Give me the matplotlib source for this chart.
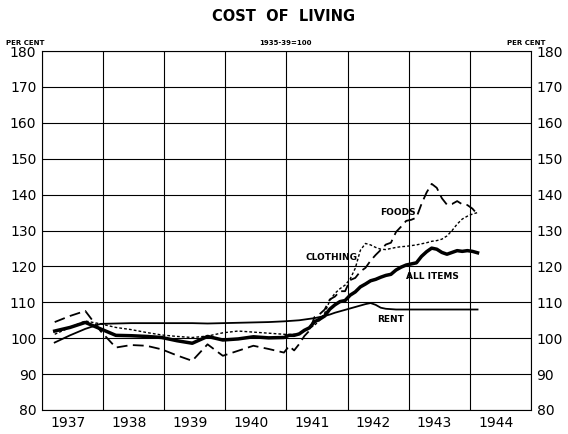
import matplotlib.pyplot as plt
import numpy as np

# x positions: quarterly (Mar, Jun, Sep, Dec) 1937-1940, monthly 1941 - Feb 1944
quarters = [1937 + y + (m - 0.5) / 12 for y in range(4) for m in (3, 6, 9, 12)]
months = [1941 + (i + 0.5) / 12 for i in range(38)]
x = np.array(quarters + months)

all_items = [102.0, 103.0, 104.4, 102.6,
             100.8, 100.7, 100.5, 100.2,
             99.3, 98.6, 100.5, 99.5,
             99.8, 100.4, 100.1, 100.2,
             100.8, 100.8, 101.2, 102.2, 102.9, 104.6, 105.3, 106.2, 108.1, 109.3, 110.2, 110.5,
             112.0, 112.9, 114.3, 115.1, 116.0, 116.4, 117.0, 117.5, 117.8, 119.0, 119.8, 120.4,
             120.7, 121.0, 122.8, 124.1, 125.1, 124.8, 123.9, 123.4, 123.9, 124.4, 124.2, 124.4,
             124.2, 123.8]

foods = [104.5, 106.2, 107.6, 102.0,
         97.4, 98.1, 97.9, 96.9,
         95.2, 93.7, 98.3, 95.1,
         96.5, 97.9, 97.0, 96.0,
         97.8, 96.6, 98.4, 100.6, 102.1, 105.9, 106.7, 108.0, 110.8, 111.6, 113.1, 113.1,
         116.2, 116.8, 118.6, 119.6, 121.6, 123.2, 124.6, 126.1, 126.6, 129.6, 131.1, 132.7,
         133.0, 133.6, 137.4, 140.6, 143.0, 141.9, 139.0, 137.2, 137.4, 138.2, 137.3, 137.1,
         136.1, 134.5]

clothing = [101.1, 103.0, 104.8, 104.0,
            103.0, 102.4, 101.6, 100.9,
            100.5, 100.2, 100.6, 101.5,
            102.0, 101.7, 101.4, 101.1,
            101.0, 101.1, 101.3, 102.0, 102.8, 103.6, 105.0, 107.0, 110.5, 112.5, 113.8, 114.8,
            116.5, 119.5, 124.5, 126.4, 126.0, 125.3, 124.8, 124.7, 125.0, 125.3, 125.5, 125.6,
            125.8, 126.0, 126.3, 126.6, 127.0, 127.2, 127.6, 128.5, 130.0, 131.8, 133.2, 134.0,
            134.6, 135.0]

rent = [98.8, 100.8, 102.6, 104.0,
        104.1, 104.2, 104.2, 104.2,
        104.2, 104.2, 104.1, 104.2,
        104.3, 104.4, 104.5, 104.7,
        104.8, 104.9, 105.0, 105.2, 105.4, 105.6, 105.9, 106.2, 106.6, 107.1, 107.5, 107.9,
        108.3, 108.7, 109.1, 109.5, 109.8, 109.3, 108.5, 108.2, 108.1, 108.0, 108.0, 108.0,
        108.0, 108.0, 108.0, 108.0, 108.0, 108.0, 108.0, 108.0, 108.0, 108.0, 108.0, 108.0,
        108.0, 108.0]

years = [1937, 1938, 1939, 1940, 1941, 1942, 1943, 1944]
yticks = [80, 90, 100, 110, 120, 130, 140, 150, 160, 170, 180]

fig = plt.figure(figsize=(5.68, 4.34), dpi=100)
ax = fig.add_axes([0.0739, 0.0553, 0.861, 0.827])

ax.plot(x, all_items, color='black', lw=2.5, solid_joinstyle='round')
ax.plot(x, rent, color='black', lw=1.3)
ax.plot(x, foods, color='black', lw=1.3, dashes=(6, 3))
ax.plot(x, clothing, color='black', lw=1.0, dashes=(2, 1.5))

ax.set_xlim(1937, 1945)
ax.set_ylim(80, 180)
ax.set_xticks(range(1937, 1946))
ax.set_xticklabels([])
ax.set_xticks([y + 0.42 for y in years], minor=True)
ax.set_xticklabels([str(y) for y in years], minor=True, fontsize=10)
ax.set_yticks(yticks)
ax.set_yticklabels([str(v) for v in yticks], fontsize=10)
ax.tick_params(which='both', length=0, pad=4)
ax.tick_params(axis='y', right=True, labelright=True)
ax.grid(True, which='major', color='black', lw=0.8)
for s in ax.spines.values():
    s.set_linewidth(0.8)

lab = dict(fontsize=6.5, fontweight='bold', ha='center', va='center')
ax.text(1942.82, 134.9, 'FOODS', **lab)
ax.text(1941.74, 122.4, 'CLOTHING', **lab)
ax.text(1943.38, 117.3, 'ALL ITEMS', **lab)
ax.text(1942.71, 105.3, 'RENT', **lab)

fig.text(0.5, 0.962, 'COST  OF  LIVING', ha='center', va='center',
         fontsize=10.5, fontweight='bold')
fig.text(0.045, 0.9, 'PER CENT', ha='center', va='center', fontsize=5, fontweight='bold')
fig.text(0.927, 0.9, 'PER CENT', ha='center', va='center', fontsize=5, fontweight='bold')
fig.text(0.502, 0.9, '1935-39=100', ha='center', va='center', fontsize=5, fontweight='bold')

fig.savefig('out.png', dpi=100)
